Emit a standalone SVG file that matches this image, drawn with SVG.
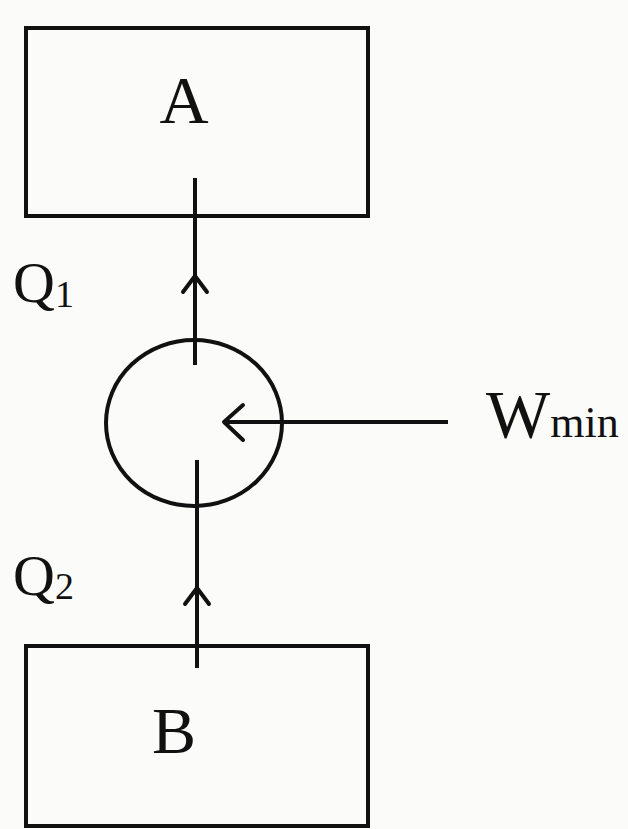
<svg xmlns="http://www.w3.org/2000/svg" width="628" height="829" viewBox="0 0 628 829">
<style>
.box{fill:none;stroke:#111;stroke-width:4}
.ln{fill:none;stroke:#111;stroke-width:4}
.hd{fill:none;stroke:#111;stroke-width:4;stroke-linecap:round;stroke-linejoin:round}
.t{font-family:"Liberation Serif",serif;fill:#111}
</style>
<rect width="628" height="829" fill="#fbfbfa"/>
<g id="A">
<rect class="box" x="26" y="28" width="342" height="188"/>
<text class="t" x="184" y="123" font-size="68" text-anchor="middle">A</text>
</g>
<g id="B">
<rect class="box" x="26" y="646" width="342" height="180"/>
<text class="t" x="174" y="753" font-size="66" text-anchor="middle">B</text>
</g>
<g id="cycle">
<ellipse cx="194" cy="423" rx="88" ry="83" fill="none" stroke="#111" stroke-width="4"/>
</g>
<g id="connectors">
<line class="ln" x1="195" y1="178" x2="195" y2="365"/>
<polyline class="hd" points="183,292 195,276 207,292"/>
<line class="ln" x1="197" y1="460" x2="197" y2="668"/>
<polyline class="hd" points="185,604 197,588 209,604"/>
<line class="ln" x1="224" y1="422" x2="448" y2="422"/>
<polyline class="hd" points="243,405 224,422 243,440"/>
</g>
<g id="labels">
<text class="t" x="13" y="302" font-size="58">Q<tspan font-size="38" dy="5">1</tspan></text>
<text class="t" x="13" y="595" font-size="58">Q<tspan font-size="38" dy="4">2</tspan></text>
<text class="t" x="486" y="437" font-size="68">W<tspan font-size="44">min</tspan></text>
</g>
</svg>
